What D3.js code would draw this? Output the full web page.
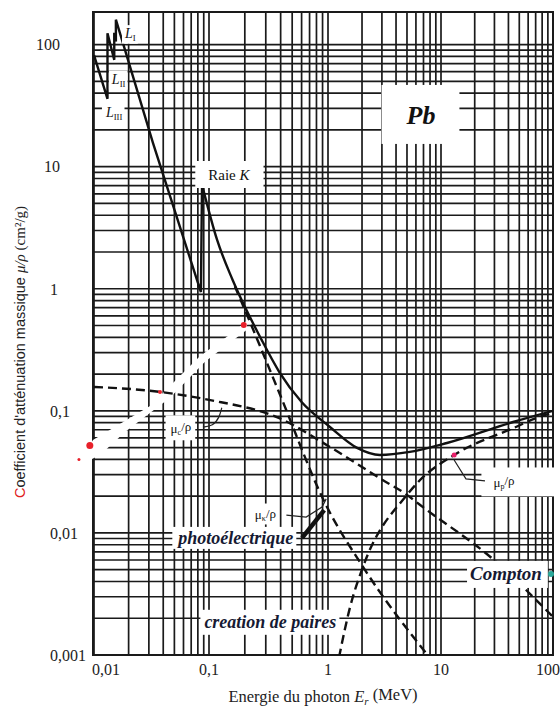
<!DOCTYPE html>
<html>
<head>
<meta charset="utf-8">
<script src="https://cdn.jsdelivr.net/npm/d3@7"></script>
<style>
  body { margin:0; background:#fff; }
  svg { display:block; }
</style>
</head>
<body>
<svg id="chart" width="560" height="711"></svg>
<script>

// axis ticks
var xTicks = [0.01, 0.1, 1, 10, 100];
var xTickLabels = ["0,01", "0,1", "1", "10", "100"];
var yTicks = [100, 10, 1, 0.1, 0.01, 0.001];
var yTickLabels = ["100", "10", "1", "0,1", "0,01", "0,001"];

// mu/rho (cm2/g) vs E (MeV)
var totalLow = [[0.01,82],[0.0131,36],[0.0131,124],[0.0150,75],[0.0150,125],[0.0155,106],[0.0155,160],[0.0326,15.6],[0.085,0.94],[0.087,7.1]];
var totalHigh = [[0.087,7.1],[0.117,2.51],[0.158,1.18],[0.277,0.381],[0.39,0.208],[0.6,0.118],[1.04,0.0738],[1.81,0.0497],[2.88,0.0435],[5.3,0.0461],[11.3,0.0545],[44,0.081],[100,0.1]];
var photo = [[0.165,1.05],[0.277,0.315],[0.39,0.14],[0.96,0.017],[2.04,0.00527],[7.8,0.00097]];
var compton = [[0.01,0.157],[0.0375,0.143],[0.1,0.123],[0.39,0.087],[1.04,0.0506],[3.07,0.027],[5.0,0.0205],[6.5,0.017],[29.7,0.006],[100,0.00205]];
var pairs = [[1.25,0.00095],[1.57,0.00248],[2.04,0.00527],[5.0,0.0205],[6.5,0.027],[13.1,0.0435],[44,0.072],[83,0.092],[100,0.096]];

// white patch left on the scan, and coloured specks
var whiteBand = [[0.00852,0.046],[0.0098,0.0578],[0.0307,0.1096],[0.0506,0.176],[0.0836,0.282],[0.165,0.451],[0.211,0.555],[0.207,0.46],[0.0923,0.252],[0.0458,0.128],[0.0186,0.0671],[0.0113,0.0435],[0.00852,0.0381]];
var spots = [[0.196,0.506,"#e8202a",3],[0.0375,0.143,"#e8202a",2],[0.0092,0.052,"#e8202a",3.5],[0.0074,0.040,"#e8202a",1.5],[13.1,0.0435,"#e8206a",2.5],[96,0.0046,"#2aa89a",3]];

var svg = d3.select("#chart");
var x = d3.scaleLog().domain([0.01, 0.1, 1, 10, 100]).range([94, 209, 328, 441, 553]);
var y = d3.scaleLog().domain([0.001, 185]).range([655, 12]);
var serif = "'Liberation Serif','Times New Roman',serif";
var ink = "#1a1a1a";

svg.append("clipPath").attr("id", "plot")
   .append("rect").attr("x", 93).attr("y", 12).attr("width", 460).attr("height", 643);

// grid
var grid = svg.append("g").attr("stroke", ink).attr("stroke-width", 1.7);
grid.selectAll(".vx").data(x.ticks()).enter().append("line")
    .attr("x1", function(d){ return x(d); }).attr("x2", function(d){ return x(d); })
    .attr("y1", y.range()[1]).attr("y2", y.range()[0]);
grid.selectAll(".hy").data(y.ticks()).enter().append("line")
    .attr("y1", function(d){ return y(d); }).attr("y2", function(d){ return y(d); })
    .attr("x1", 93).attr("x2", 553);

svg.append("rect").attr("x", 93).attr("y", 12).attr("width", 460).attr("height", 643)
   .attr("fill", "none").attr("stroke", ink).attr("stroke-width", 2);

var line = d3.line().x(function(d){ return x(d[0]); }).y(function(d){ return y(d[1]); });
var smooth = d3.line().x(function(d){ return x(d[0]); }).y(function(d){ return y(d[1]); }).curve(d3.curveMonotoneX);

svg.append("path").attr("d", line(whiteBand) + "Z").attr("fill", "#fff");

var curves = svg.append("g").attr("clip-path", "url(#plot)").attr("fill", "none").attr("stroke", "#111").attr("stroke-width", 2.4);
curves.append("path").attr("d", line(totalLow)).attr("stroke-linejoin", "miter");
curves.append("path").attr("d", smooth(totalHigh));
curves.append("path").attr("d", smooth(photo)).attr("stroke-dasharray", "9,5");
curves.append("path").attr("d", smooth(compton)).attr("stroke-dasharray", "9,5");
curves.append("path").attr("d", smooth(pairs)).attr("stroke-dasharray", "9,5");

// labels
var boxes = svg.append("g");
var texts = svg.append("g");

function label(d) {
    var t = texts.append("text")
        .attr("x", x(d.E)).attr("y", y(d.mu))
        .attr("text-anchor", d.anchor || "middle")
        .style("font-family", serif)
        .style("font-size", d.size + "px")
        .style("font-weight", d.weight || "normal")
        .style("font-style", d.style || "normal")
        .attr("fill", d.fill || "#111");
    var low = false;
    d.parts.forEach(function(p) {
        var s = t.append("tspan").text(p.t);
        if (p.it) s.style("font-style", "italic");
        if (p.sub) { s.style("font-size", (d.size * 0.62) + "px").attr("dy", "0.3em"); low = true; }
        else if (low) { s.attr("dy", "-0.3em"); low = false; }
    });
    var b = t.node().getBBox(), p = d.pad;
    boxes.append("rect").attr("x", b.x - p[3]).attr("y", b.y - p[0])
        .attr("width", b.width + p[1] + p[3]).attr("height", b.height + p[0] + p[2])
        .attr("fill", "#fff");
}

var navy = "#161a33";
var labels = [
    {E:0.0186, mu:113, anchor:"start", size:14, parts:[{t:"L",it:1},{t:"I",sub:1}], pad:[1,2,1,2]},
    {E:0.0143, mu:47.6, anchor:"start", size:14, parts:[{t:"L",it:1},{t:"II",sub:1}], pad:[1,2,1,2]},
    {E:0.0127, mu:25.5, anchor:"start", size:14, parts:[{t:"L",it:1},{t:"III",sub:1}], pad:[1,2,1,3]},
    {E:0.147, mu:7.78, size:15, parts:[{t:"Raie "},{t:"K",it:1}], pad:[6,13,5,13]},
    {E:6.65, mu:22.4, size:26, weight:"bold", style:"italic", parts:[{t:"Pb"}], pad:[16,24,14,24]},
    {E:0.057, mu:0.066, size:13, parts:[{t:"μ"},{t:"c",sub:1},{t:"/ρ"}], pad:[4,4,3,5]},
    {E:0.298, mu:0.013, size:13, parts:[{t:"μ"},{t:"κ",sub:1},{t:"/ρ"}], pad:[2,3,1,3]},
    {E:36.5, mu:0.0238, size:13, parts:[{t:"μ"},{t:"p",sub:1},{t:"/ρ"}], pad:[6,40,5,12]},
    {E:0.168, mu:0.00813, size:18, weight:"bold", style:"italic", fill:navy, parts:[{t:"photoélectrique"}], pad:[1,3,1,4]},
    {E:38, mu:0.00412, size:19, weight:"bold", style:"italic", fill:navy, parts:[{t:"Compton"}], pad:[2,6,4,3]},
    {E:0.328, mu:0.00167, size:18, weight:"bold", style:"italic", fill:navy, parts:[{t:"creation de paires"}], pad:[2,3,3,4]}
];
labels.forEach(label);

// leaders
var leaders = svg.append("g").attr("fill", "none").attr("stroke", "#222").attr("stroke-width", 1.2);
leaders.append("path").attr("d", d3.line().x(function(d){ return x(d[0]); }).y(function(d){ return y(d[1]); }).curve(d3.curveBasis)([[0.0886,0.0738],[0.108,0.0752],[0.122,0.088],[0.128,0.106]]));
leaders.append("path").attr("d", line([[0.447,0.014],[0.655,0.0135],[0.891,0.0163],[0.966,0.019]]));
leaders.append("path").attr("d", line([[24.7,0.0267],[16.7,0.0277],[13.1,0.0396]]));
svg.append("path").attr("d", line([[0.606,0.0091],[0.929,0.0154]])).attr("stroke", "#111").attr("stroke-width", 4.5);

svg.selectAll(".spot").data(spots).enter().append("circle")
   .attr("cx", function(d){ return x(d[0]); }).attr("cy", function(d){ return y(d[1]); })
   .attr("r", function(d){ return d[3]; }).attr("fill", function(d){ return d[2]; });

// tick labels
svg.selectAll(".yl").data(yTicks).enter().append("text")
   .attr("x", function(d){ return d > 1 ? 60 : 50; })
   .attr("y", function(d){ return y(d); }).attr("dy", "0.36em")
   .attr("text-anchor", function(d){ return d > 1 ? "end" : "start"; })
   .style("font-family", serif).style("font-size", "16px").attr("fill", "#222")
   .text(function(d, i){ return yTickLabels[i]; });

svg.selectAll(".xl").data(xTicks).enter().append("text")
   .attr("x", function(d, i){ return i == 0 ? x(d) - 2 : (i == 4 ? x(d) - 5 : x(d)); })
   .attr("y", 675)
   .attr("text-anchor", function(d, i){ return i == 0 ? "start" : "middle"; })
   .style("font-family", serif).style("font-size", "16px").attr("fill", "#222")
   .text(function(d, i){ return xTickLabels[i]; });

// axis titles
var yt = svg.append("text").attr("transform", "translate(25,352) rotate(-90)")
   .attr("text-anchor", "middle").style("font-size", "14.5px").attr("fill", "#222")
   .style("font-family", "'Liberation Sans',Arial,sans-serif");
yt.append("tspan").text("C").attr("fill", "#e02020");
yt.append("tspan").text("oefficient d'atténuation massique ");
yt.append("tspan").text("μ/ρ").style("font-family", serif).style("font-style", "italic").style("font-size", "15px");
yt.append("tspan").text(" (cm²/g)").style("font-family", serif).style("font-size", "15px");

var xt = svg.append("text").attr("x", 323).attr("y", 702).attr("text-anchor", "middle")
   .style("font-family", serif).style("font-size", "16.5px").attr("fill", "#222");
xt.append("tspan").text("Energie du photon ");
xt.append("tspan").text("E").style("font-style", "italic");
xt.append("tspan").text("r").style("font-style", "italic").style("font-size", "11px").attr("dy", "0.3em");
xt.append("tspan").text(" (MeV)").attr("dy", "-0.3em");

</script>
</body>
</html>
